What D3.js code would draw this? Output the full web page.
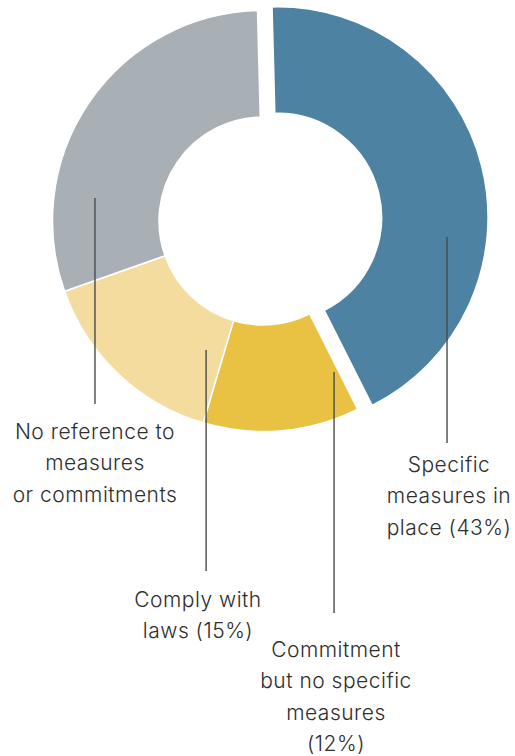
<!DOCTYPE html>
<html>
<head>
<meta charset="utf-8">
<script src="https://cdn.jsdelivr.net/npm/d3@7"></script>
<style>
  html, body { margin: 0; padding: 0; background: #fff; }
  svg { display: block; }
  .label { font-family: Inter, "Noto Sans", sans-serif; font-weight: 300; font-size: 21px; letter-spacing: 0.5px; fill: #2e2e2e; }
</style>
</head>
<body>
<svg id="chart" width="515" height="756"></svg>
<script>
// Share of companies by type of commitment
const categories = [
  "Specific measures in place",
  "Commitment but no specific measures",
  "Comply with laws",
  "No reference to measures or commitments"
];
const values = [43, 12, 15, 30];
const colors = ["#4e82a2", "#e9c244", "#f3dc9e", "#a8b0b5"];
// label lines; {v} is replaced by the slice value
const labelLines = [
  ["Specific", "measures in", "place ({v}%)"],
  ["Commitment", "but no specific", "measures", "({v}%)"],
  ["Comply with", "laws ({v}%)"],
  ["No reference to", "measures", "or commitments"]
];
const exploded = [true, false, false, false];

// layout
const W = 515, H = 756;
const cx = 263, cy = 221;
const rOuter = 210.5, rInner = 104;
const explode = 15;
const rotation = -1.5 * Math.PI / 180;
// leader start (angle in degrees, radius) and end y, label centre x and first baseline
const leaderAngle = [96.6, 154.8, 203.8, 277.8];
const leaderRadius = [170.6, 166.9, 141, 169.6];
const leaderEndY = [443, 613, 571, 404];
const labelX = [449, 336, 198, 95];
const labelY = [472, 657, 607, 439];
const lineGap = 31.3;

const svg = d3.select("#chart");
const g = svg.append("g").attr("transform", `translate(${cx},${cy})`);

const pie = d3.pie().sort(null).value(d => d.value)
  .startAngle(rotation).endAngle(rotation + 2 * Math.PI);
const rows = categories.map((c, i) => ({ name: c, value: values[i], color: colors[i], i }));
const arcs = pie(rows);
const arc = d3.arc().innerRadius(rInner).outerRadius(rOuter);

function offsetOf(d) {
  if (!exploded[d.data.i]) return [0, 0];
  const mid = (d.startAngle + d.endAngle) / 2;
  return [explode * Math.sin(mid), -explode * Math.cos(mid)];
}

g.selectAll("path.slice")
  .data(arcs)
  .join("path")
  .attr("class", "slice")
  .attr("d", arc)
  .attr("fill", d => d.data.color)
  .attr("stroke", "#fff")
  .attr("stroke-width", 1.5)
  .attr("transform", d => { const o = offsetOf(d); return `translate(${o[0]},${o[1]})`; });

// leader lines and labels
arcs.forEach(d => {
  const i = d.data.i;
  const o = offsetOf(d);
  const a = leaderAngle[i] * Math.PI / 180;
  const x = cx + o[0] + leaderRadius[i] * Math.sin(a);
  const y = cy + o[1] - leaderRadius[i] * Math.cos(a);
  svg.append("line")
    .attr("x1", x).attr("y1", y)
    .attr("x2", x).attr("y2", leaderEndY[i])
    .attr("stroke", "#4a4a4a")
    .attr("stroke-width", 1.4);

  const t = svg.append("text")
    .attr("class", "label")
    .attr("text-anchor", "middle")
    .attr("x", labelX[i])
    .attr("y", labelY[i]);
  labelLines[i].forEach((ln, k) => {
    t.append("tspan")
      .attr("x", labelX[i])
      .attr("dy", k === 0 ? 0 : lineGap)
      .text(ln.replace("{v}", d.data.value));
  });
});
</script>
</body>
</html>
